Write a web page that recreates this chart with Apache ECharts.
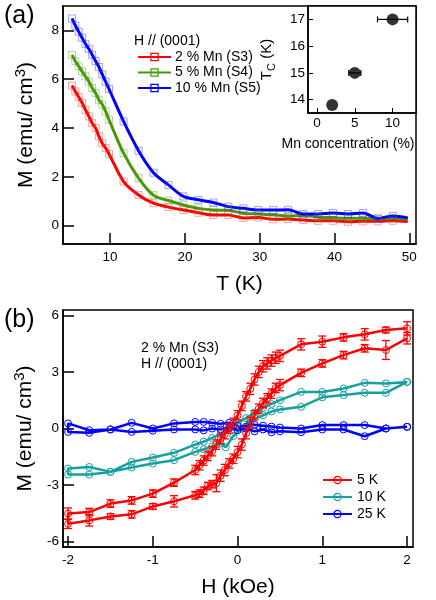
<!DOCTYPE html>
<html>
<head>
<meta charset="utf-8">
<script src="https://cdn.jsdelivr.net/npm/echarts@6/dist/echarts.min.js"></script>
<style>html,body{margin:0;padding:0;background:#fff}#c{width:436px;height:600px}</style>
</head>
<body>
<div id="c"></div>
<script>
// ---------- Panel (a): M vs T ----------
const T_K = [4.9,5.35,5.8,6.25,6.7,7.15,7.6,8.05,8.5,8.95,9.4,9.85,11.8,13.8,15.8,17.8,19.8,21.8,23.8,25.8,27.8,29.8,31.8,33.8,35.8,37.8,39.8,41.8,43.8,45.8,47.8,49.8];
const M_2pct = [5.74,5.5,5.27,5.03,4.75,4.48,4.2,4.0,3.66,3.38,3.18,2.94,1.81,1.26,0.92,0.76,0.64,0.53,0.44,0.44,0.32,0.34,0.26,0.27,0.23,0.2,0.2,0.16,0.18,0.18,0.2,0.17];
const M_5pct = [7.0,6.74,6.53,6.32,6.12,5.91,5.64,5.44,5.16,4.96,4.68,4.34,2.97,1.95,1.25,1.03,0.85,0.71,0.64,0.63,0.51,0.48,0.45,0.4,0.42,0.35,0.33,0.3,0.3,0.28,0.3,0.27];
const M_10pct = [8.49,8.2,7.95,7.7,7.45,7.25,7.0,6.75,6.5,6.2,5.9,5.6,4.27,3.07,2.17,1.67,1.2,1.06,0.95,0.78,0.71,0.64,0.64,0.65,0.48,0.48,0.52,0.48,0.52,0.3,0.4,0.32];
const seriesNamesA = ['2 % Mn (S3)','5 % Mn (S4)','10 % Mn (S5)'];
const xTicksA = [10,20,30,40,50];
const yTicksA = [0,2,4,6,8];

// ---------- Inset: Tc vs Mn ----------
const mnConc = [2,5,10];
const tcK = [13.8,15.0,17.0];
const mnErr = [0,0.8,2.0];
const xTicksIn = [0,5,10];
const yTicksIn = [14,15,16,17];

// ---------- Panel (b): M vs H ----------
const H_5K = [2.0,1.75,1.5,1.25,1.0,0.75,0.5,0.45,0.4,0.35,0.3,0.25,0.2,0.15,0.1,0.05,0,-0.05,-0.1,-0.15,-0.2,-0.25,-0.3,-0.35,-0.4,-0.45,-0.5,-0.75,-1.0,-1.25,-1.5,-1.75,-2.0,
              -2.0,-1.75,-1.5,-1.25,-1.0,-0.75,-0.5,-0.45,-0.4,-0.35,-0.3,-0.25,-0.2,-0.15,-0.1,-0.05,0,0.05,0.1,0.15,0.2,0.25,0.3,0.35,0.4,0.45,0.5,0.75,1.0,1.25,1.5,1.75,2.0];
const M_5K = [5.31,5.22,4.99,4.83,4.6,4.46,3.85,3.75,3.6,3.45,3.3,3.0,2.6,2.1,1.7,1.2,0.7,0.3,0.0,-0.3,-0.55,-0.85,-1.2,-1.45,-1.7,-1.95,-2.2,-2.87,-3.45,-3.81,-3.98,-4.43,-4.51,
              -5.05,-4.87,-4.66,-4.55,-4.13,-3.86,-3.54,-3.45,-3.3,-3.05,-2.95,-2.9,-2.5,-2.2,-1.85,-1.6,-1.25,-0.85,-0.25,0.3,0.7,1.05,1.35,1.6,1.85,2.15,2.3,2.95,3.45,3.89,4.25,4.16,4.78];
const E_5K = [0.35,0.15,0.3,0.2,0.3,0.3,0.3,0.3,0.3,0.3,0.3,0.3,0.3,0.3,0.25,0.25,0.25,0.25,0.25,0.25,0.25,0.25,0.25,0.25,0.25,0.25,0.25,0.2,0.2,0.2,0.2,0.2,0.3,
              0.25,0.3,0.15,0.2,0.15,0.3,0.2,0.2,0.2,0.2,0.2,0.45,0.3,0.3,0.25,0.25,0.3,0.3,0.3,0.3,0.25,0.25,0.25,0.25,0.25,0.25,0.3,0.2,0.2,0.2,0.2,0.5,0.3];
const H_10K = [2.0,1.75,1.5,1.25,1.0,0.75,0.5,0.4,0.3,0.2,0.1,0,-0.1,-0.2,-0.3,-0.4,-0.5,-0.75,-1.0,-1.25,-1.5,-1.75,-2.0,
               -2.0,-1.75,-1.5,-1.25,-1.0,-0.75,-0.5,-0.4,-0.3,-0.2,-0.14,-0.05,0.05,0.15,0.3,0.4,0.5,0.75,1.0,1.25,1.5,1.75,2.0];
const M_10K = [2.47,2.39,2.42,2.12,1.94,1.94,1.5,1.3,1.1,0.85,0.55,0.3,0.0,-0.3,-0.5,-0.7,-0.85,-1.29,-1.54,-1.77,-2.3,-2.04,-2.12,
               -2.44,-2.44,-2.3,-2.07,-1.86,-1.68,-1.24,-1.1,-0.95,-0.8,-1.0,-0.4,0.0,0.4,0.7,0.9,1.01,1.15,1.65,1.77,1.89,1.89,2.47];
const H_25K = [2.0,1.75,1.5,1.25,1.0,0.75,0.5,0.4,0.3,0.2,0.1,0,-0.1,-0.2,-0.3,-0.4,-0.5,-0.75,-1.0,-1.25,-1.5,-1.75,-2.0,
               -2.0,-1.75,-1.5,-1.25,-1.0,-0.75,-0.5,-0.4,-0.3,-0.2,-0.1,0,0.1,0.2,0.3,0.4,0.5,0.75,1.0,1.25,1.5,1.75,2.0];
const M_25K = [0.09,0.0,0.18,0.18,0.18,0.0,0.05,0.1,0.15,0.2,0.1,0.15,0.3,0.25,0.3,0.35,0.35,0.27,0.0,0.3,-0.05,-0.09,0.27,
               -0.18,-0.23,-0.05,-0.18,-0.12,-0.05,-0.05,-0.1,0.0,-0.05,0.05,-0.1,0.0,-0.15,-0.05,-0.2,-0.15,-0.2,-0.05,-0.05,-0.41,0.0,0.09];
const seriesNamesB = ['5 K','10 K','25 K'];
const xTicksB = [-2,-1,0,1,2];
const yTicksB = [-6,-3,0,3,6];

// ---------- styling ----------
const FONT = 'Liberation Sans, Arial, sans-serif';
const RED = '#ff0000', GREEN = '#46990a', BLUE = '#0000ff', TEAL = '#17a0a0';
const RED_L = 'rgba(255,40,40,0.55)', GREEN_L = 'rgba(80,160,20,0.55)', BLUE_L = 'rgba(40,40,255,0.55)';

const zip = (a, b) => a.map((v, i) => [v, b[i]]);
const zip3 = (a, b, c) => a.map((v, i) => [v, b[i], c[i]]);

function mainAxis(gridIndex, min, max, ticks, name, nameGap, isY) {
  const rich = {sup: {fontSize: 15, fontFamily: FONT, color: '#000', verticalAlign: 'top', lineHeight: 26}, main: {fontSize: 21, fontFamily: FONT, color: '#000', lineHeight: 26}};
  return {
    type: 'value', gridIndex, min, max,
    axisLine: {show: true, onZero: false, lineStyle: {color: '#000', width: 1.5}},
    axisTick: {show: true, inside: true, length: 11, customValues: ticks, lineStyle: {color: '#000', width: 1.5}},
    axisLabel: {show: true, customValues: ticks, fontSize: 13.5, fontFamily: FONT, color: '#000', margin: isY ? 4 : 6},
    splitLine: {show: false},
    name, nameLocation: 'middle', nameGap,
    nameTextStyle: {fontSize: 21, fontFamily: FONT, color: '#000', rich}
  };
}

function hErr(params, api) {
  const x = api.value(0), y = api.value(1), e = api.value(2);
  if (!e) return null;
  const l = api.coord([x - e, y]), r = api.coord([x + e, y]);
  const st = {stroke: '#000', lineWidth: 1.2};
  return {type: 'group', children: [
    {type: 'line', shape: {x1: l[0], y1: l[1], x2: r[0], y2: r[1]}, style: st},
    {type: 'line', shape: {x1: l[0], y1: l[1] - 3, x2: l[0], y2: l[1] + 3}, style: st},
    {type: 'line', shape: {x1: r[0], y1: r[1] - 3, x2: r[0], y2: r[1] + 3}, style: st}
  ]};
}
function vErr(params, api) {
  const x = api.value(0), y = api.value(1), e = api.value(2);
  const hi = api.coord([x, y + e]), lo = api.coord([x, y - e]);
  const st = {stroke: RED, lineWidth: 1.3};
  const w = 4;
  return {type: 'group', children: [
    {type: 'line', shape: {x1: hi[0], y1: hi[1], x2: lo[0], y2: lo[1]}, style: st},
    {type: 'line', shape: {x1: hi[0] - w, y1: hi[1], x2: hi[0] + w, y2: hi[1]}, style: st},
    {type: 'line', shape: {x1: lo[0] - w, y1: lo[1], x2: lo[0] + w, y2: lo[1]}, style: st}
  ]};
}

function tLine(name, data, color) {
  return {name, type: 'line', xAxisIndex: 0, yAxisIndex: 0, data, smooth: 0.3, showSymbol: false, symbol: 'rect', symbolSize: 8,
    lineStyle: {color, width: 3}, itemStyle: {color: 'rgba(0,0,0,0)', borderColor: color, borderWidth: 1.2}, z: 2, silent: true};
}
function tMarks(data, color) {
  return {type: 'scatter', xAxisIndex: 0, yAxisIndex: 0, data, symbol: 'rect', symbolSize: 7,
    itemStyle: {color: 'rgba(0,0,0,0)', borderColor: color, borderWidth: 1}, z: 3, silent: true};
}
function hLoop(name, data, color) {
  return {name, type: 'line', xAxisIndex: 2, yAxisIndex: 2, data, showSymbol: true, symbol: 'circle', symbolSize: 7,
    lineStyle: {color, width: 2.5}, itemStyle: {color: 'rgba(0,0,0,0)', borderColor: color, borderWidth: 1}, z: 2, silent: true};
}

const option = {
  animation: false,
  backgroundColor: '#fff',
  textStyle: {fontFamily: FONT},
  grid: [
    {left: 63, top: 6, width: 353, height: 238, show: true, borderColor: '#000', borderWidth: 1.5, backgroundColor: 'rgba(0,0,0,0)'},
    {left: 308, top: 6, width: 108, height: 107, show: true, borderColor: '#000', borderWidth: 1.5, backgroundColor: '#fff'},
    {left: 63, top: 310, width: 350, height: 237, show: true, borderColor: '#000', borderWidth: 1.5, backgroundColor: 'rgba(0,0,0,0)'}
  ],
  xAxis: [
    mainAxis(0, 3.7, 50.9, xTicksA, 'T (K)', 30, false),
    {type: 'value', gridIndex: 1, min: -1.2, max: 13.1,
      axisLine: {show: true, onZero: false, lineStyle: {color: '#000', width: 1.5}},
      axisTick: {show: true, inside: true, length: 5, customValues: xTicksIn, lineStyle: {color: '#000'}},
      axisLabel: {customValues: xTicksIn, fontSize: 13.5, fontFamily: FONT, color: '#000', margin: 3},
      splitLine: {show: false},
      name: 'Mn concentration (%)', nameLocation: 'middle', nameGap: 24,
      nameTextStyle: {fontSize: 14, fontFamily: FONT, color: '#000', padding: [0, 28, 0, 0]}},
    mainAxis(2, -2.06, 2.07, xTicksB, 'H (kOe)', 30, false)
  ],
  yAxis: [
    mainAxis(0, -0.75, 9.0, yTicksA, '{main|M (emu/ cm}{sup|3}{main|)}', 24, true),
    {type: 'value', gridIndex: 1, min: 13.5, max: 17.5,
      axisLine: {show: true, onZero: false, lineStyle: {color: '#000', width: 1.5}},
      axisTick: {show: true, inside: true, length: 5, customValues: yTicksIn, lineStyle: {color: '#000'}},
      axisLabel: {customValues: yTicksIn, fontSize: 13.5, fontFamily: FONT, color: '#000', margin: 3},
      splitLine: {show: false},
      name: '{m|T}{s|C}{m| (K)}', nameLocation: 'middle', nameGap: 31,
      nameTextStyle: {fontSize: 15, fontFamily: FONT, color: '#000',
        rich: {m: {fontSize: 15, fontFamily: FONT, color: '#000', lineHeight: 20}, s: {fontSize: 11, fontFamily: FONT, color: '#000', verticalAlign: 'bottom', lineHeight: 20}}}},
    mainAxis(2, -6.28, 6.28, yTicksB, '{main|M (emu/ cm}{sup|3}{main|)}', 24, true)
  ],
  legend: [
    {data: seriesNamesA, orient: 'vertical', left: 132, top: 45, itemWidth: 33, itemHeight: 9, itemGap: 1.5,
      textStyle: {fontSize: 14, fontFamily: FONT, color: '#000', padding: [0, 0, 0, -1]}, selectedMode: false,
      itemStyle: {color: 'rgba(0,0,0,0)', borderWidth: 1.2}},
    {data: seriesNamesB, orient: 'vertical', left: 317, top: 468, itemWidth: 29, itemHeight: 9, itemGap: 3,
      textStyle: {fontSize: 14, fontFamily: FONT, color: '#000'}, selectedMode: false,
      itemStyle: {color: 'rgba(0,0,0,0)', borderWidth: 1.2}}
  ],
  graphic: [
    {type: 'text', left: 4, top: 4, style: {text: '(a)', fontSize: 25, fontFamily: FONT, fill: '#000'}},
    {type: 'text', left: 4, top: 308, style: {text: '(b)', fontSize: 25, fontFamily: FONT, fill: '#000'}},
    {type: 'text', left: 134, top: 34, style: {text: 'H // (0001)', fontSize: 14, fontFamily: FONT, fill: '#000'}},
    {type: 'text', left: 141, top: 340, style: {text: '2 % Mn (S3)\nH // (0001)', fontSize: 14, lineHeight: 16, fontFamily: FONT, fill: '#000'}}
  ],
  series: [
    tLine(seriesNamesA[0], zip(T_K, M_2pct), RED),
    tLine(seriesNamesA[1], zip(T_K, M_5pct), GREEN),
    tLine(seriesNamesA[2], zip(T_K, M_10pct), BLUE),
    tMarks(zip(T_K, M_2pct).slice(0, -1), RED_L),
    tMarks(zip(T_K, M_5pct).slice(0, -1), GREEN_L),
    tMarks(zip(T_K, M_10pct).slice(0, -1), BLUE_L),
    {type: 'custom', xAxisIndex: 1, yAxisIndex: 1, data: zip3(mnConc, tcK, mnErr), renderItem: hErr, encode: {x: 0, y: 1}, z: 4, silent: true},
    {type: 'scatter', xAxisIndex: 1, yAxisIndex: 1, data: zip(mnConc, tcK), symbol: 'circle', symbolSize: 12, itemStyle: {color: '#000'}, z: 5, silent: true},
    hLoop(seriesNamesB[1], zip(H_10K, M_10K), TEAL),
    hLoop(seriesNamesB[2], zip(H_25K, M_25K), BLUE),
    hLoop(seriesNamesB[0], zip(H_5K, M_5K), RED),
    {type: 'custom', xAxisIndex: 2, yAxisIndex: 2, data: zip3(H_5K, M_5K, E_5K), renderItem: vErr, encode: {x: 0, y: 1}, z: 3, silent: true, clip: true}
  ]
};
const chart = echarts.init(document.getElementById('c'));
chart.setOption(option);
</script>
</body>
</html>
